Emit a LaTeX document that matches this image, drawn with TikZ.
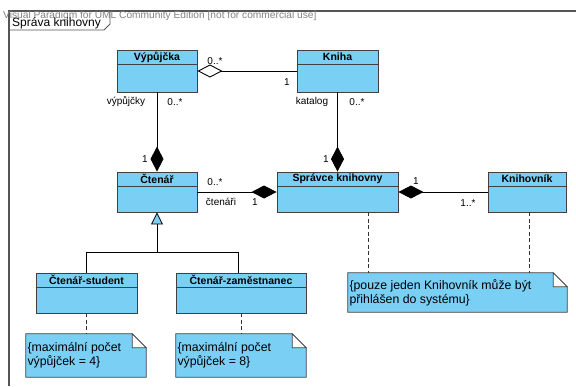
\documentclass[tikz,border=0pt]{standalone}
\usepackage{fontspec}
\setmainfont{Liberation Sans}
\usetikzlibrary{arrows.meta}
\definecolor{clsfill}{RGB}{122,207,245}
\definecolor{frameg}{RGB}{85,85,85}
\definecolor{wmark}{RGB}{130,130,130}

\newcommand{\umlclass}[6]{%
  \node[cls, minimum width=#4pt, minimum height=#5pt] (#1) at (#2,#3) {};
  \draw[clsline] ([yshift=-15pt]#1.north west) -- ([yshift=-15pt]#1.north east);
  \node[cname] (#1-t) at ([yshift=-7.5pt]#1.north) {#6};
}
\newcommand{\umlnote}[6]{%
  \node[notebox, minimum width=#4pt, minimum height=#5pt] (#1) at (#2,#3) {};
  \filldraw[noteline] (#1.south west) -- (#1.north west) -- ([xshift=-14pt]#1.north east)
     -- ([yshift=-14pt]#1.north east) -- (#1.south east) -- cycle;
  \filldraw[noteline, fill=white] ([xshift=-14pt]#1.north east) -- ([xshift=-14pt,yshift=-14pt]#1.north east)
     -- ([yshift=-14pt]#1.north east) -- cycle;
  \node[notetext, anchor=west] (#1-t) at ([xshift=1.5pt]#1.west) {#6};
}

\begin{document}
\begin{tikzpicture}[x=1pt,y=-1pt,
  cls/.style={draw=black!75, line width=0.9pt, fill=clsfill, inner sep=0pt},
  clsline/.style={draw=black!75, line width=0.9pt},
  cname/.style={font=\fontsize{10.5}{12}\selectfont\bfseries, inner sep=0pt},
  lbl/.style={font=\fontsize{10}{12}\selectfont, inner sep=0pt},
  notebox/.style={inner sep=0pt},
  noteline/.style={draw=black!75, line width=0.8pt, fill=clsfill},
  notetext/.style={inner sep=0pt, align=left, font=\fontsize{12.3}{14}\selectfont},
  conn/.style={draw=black, line width=0.9pt},
  cmp/.style={-{Diamond[length=25pt,width=13pt]}},
  agg/.style={{Diamond[open,length=25pt,width=13pt]}-},
  gen/.style={-{Triangle[length=12pt,width=12pt,fill=clsfill]}},
  dep/.style={draw=black!80, line width=0.7pt, dash pattern=on 4pt off 2.5pt},
]
\useasboundingbox (0,0) rectangle (576,386);

% frame and package tab
\draw[frameg, line width=1.6pt] (9,386) -- (9,11) -- (576,11);
\node[anchor=west, inner sep=0pt, text=wmark, font=\fontsize{10.2}{11}\selectfont] (wm) at (3,16)
  {Visual Paradigm for UML Community Edition [not for commercial use]};
\draw[frameg, line width=0.9pt] (9,30) -- (104,30) -- (110,24) -- (110,11);
\node[anchor=west, inner sep=0pt, font=\fontsize{12}{14}\selectfont] (pkg) at (12,23) {Správa knihovny};

% classes
\umlclass{vyp}{157}{71}{80}{42}{Výpůjčka}
\umlclass{kniha}{337.5}{71}{81}{42}{Kniha}
\umlclass{cten}{157}{192}{80}{40}{Čtenář}
\umlclass{spr}{337.5}{192}{121}{40}{Správce knihovny}
\umlclass{knv}{527}{192}{78}{40}{Knihovník}
\umlclass{stud}{86.5}{293}{101}{40}{Čtenář-student}
\umlclass{zam}{241}{293}{130}{40}{Čtenář-zaměstnanec}

% notes
\umlnote{n1}{86}{355.5}{120}{43}{\{maximální počet\\výpůjček = 4\}}
\umlnote{n2}{241}{355.5}{130}{43}{\{maximální počet\\výpůjček = 8\}}
\umlnote{n3}{457.5}{292.5}{219}{39}{\{pouze jeden Knihovník může být\\přihlášen do systému\}}

% associations
\draw[conn, agg] (vyp.east) -- (kniha.west);
\draw[conn, cmp] (vyp.south) -- (cten.north);
\draw[conn, cmp] (kniha.south) -- (spr.north);
\draw[conn, cmp] (cten.east) -- (spr.west);
\draw[conn, cmp] (knv.west) -- (spr.east);

% generalization
\coordinate (gj) at (157,252);
\draw[conn, line width=0.8pt] (stud.north) |- (gj);
\draw[conn, line width=0.8pt] ([xshift=-3pt]zam.north) |- (gj);
\draw[conn, line width=0.8pt, gen] (gj) -- (cten.south);

% note anchors
\draw[dep] (stud.south) -- (stud.south |- n1.north);
\draw[dep] (zam.south) -- (zam.south |- n2.north);
\draw[dep] ([xshift=30.5pt]spr.south) -- ([xshift=30.5pt]spr.south |- n3.north);
\draw[dep] ([xshift=2pt]knv.south) -- ([xshift=2pt]knv.south |- n3.north);

% labels
\node[lbl] (l1) at (215,61) {0..*};
\node[lbl] (l2) at (287,82) {1};
\node[lbl] (l3) at (126,102) {výpůjčky};
\node[lbl] (l4) at (175,102) {0..*};
\node[lbl] (l5) at (145,159) {1};
\node[lbl] (l6) at (312,102) {katalog};
\node[lbl] (l7) at (357,102) {0..*};
\node[lbl] (l8) at (326,159) {1};
\node[lbl] (l9) at (215,182) {0..*};
\node[lbl] (l10) at (221,202) {čtenáři};
\node[lbl] (l11) at (255,202) {1};
\node[lbl] (l12) at (416,181) {1};
\node[lbl] (l13) at (468,203) {1..*};
\end{tikzpicture}
\end{document}
